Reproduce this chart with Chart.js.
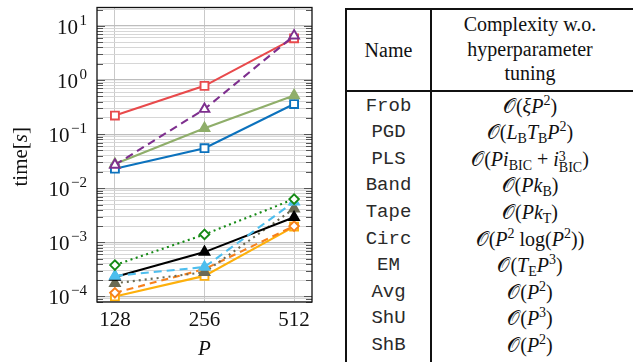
<!DOCTYPE html>
<html>
<head>
<meta charset="utf-8">
<script src="https://cdn.jsdelivr.net/npm/chart.js@4.4.1/dist/chart.umd.min.js"></script>
<style>
  body { margin: 0; width: 633px; height: 362px; overflow: hidden; position: relative; background: #fff; }
  #graf { position: absolute; left: 0; top: 0; width: 320px; height: 362px; }
  .ln { position: absolute; background: #111; }
  .cel { position: absolute; text-align: center; font-family: "Liberation Serif", "DejaVu Serif", serif; font-size: 20px; color: #111; white-space: nowrap; }
  .nome { font-family: "Liberation Mono", "DejaVu Sans Mono", monospace; font-size: 19px; color: #2a2a2a; }
  .cel i { font-style: italic; }
  .cel sup, .cel sub { font-size: 14px; line-height: 0; font-style: normal; }
  .cel sup { vertical-align: 8px; }
  .cel sub { vertical-align: -4px; }
  .pilha { display: inline-block; vertical-align: -6px; line-height: 11px; font-size: 14px; text-align: left; }
</style>
</head>
<body>
<div id="graf"><canvas id="grafico"></canvas></div>
<div id="tabela"></div>
<script>
// eixo x: tamanho do problema P
const valoresP = [128, 256, 512];
const nomesMetodos = ['Frob', 'PGD', 'PLS', 'Band', 'Tape', 'Circ', 'EM', 'Avg', 'ShU', 'ShB'];
const complexidades = [
  '𝒪(<i>ξP</i><sup>2</sup>)',
  '𝒪(<i>L</i><sub>B</sub><i>T</i><sub>B</sub><i>P</i><sup>2</sup>)',
  '𝒪(<i>Pi</i><sub>BIC</sub> + <i>i</i><span class="pilha">3<br>BIC</span>)',
  '𝒪(<i>Pk</i><sub>B</sub>)',
  '𝒪(<i>Pk</i><sub>T</sub>)',
  '𝒪(<i>P</i><sup>2</sup> log(<i>P</i><sup>2</sup>))',
  '𝒪(<i>T</i><sub>E</sub><i>P</i><sup>3</sup>)',
  '𝒪(<i>P</i><sup>2</sup>)',
  '𝒪(<i>P</i><sup>3</sup>)',
  '𝒪(<i>P</i><sup>2</sup>)'
];

// tempos em segundos
const tempoFrob = [0.22, 0.78, 5.9];
const tempoPGD = [0.023, 0.055, 0.36];
const tempoPLS = [0.028, 0.128, 0.52];
const tempoEM = [0.027, 0.29, 6.6];
const tempoBand = [3.8e-4, 1.4e-3, 6.3e-3];
const tempoTape = [2.3e-4, 6.6e-4, 2.9e-3];
const tempoCirc = [2.4e-4, 3.5e-4, 5.6e-3];
const tempoAvg = [1.75e-4, 2.8e-4, 4.2e-3];
const tempoShU = [1.17e-4, 3.2e-4, 2.0e-3];
const tempoShB = [1.0e-4, 2.4e-4, 1.95e-3];

const expoentesY = [1, 0, -1, -2, -3, -4];

function serie(label, valores, cor, estilo, vazio, tracejado) {
  let raio = 5.6;
  if (estilo === 'triangle') raio = 5.6;
  if (estilo === 'rectRot') raio = 4.8;
  return {
    label: label,
    data: valoresP.map((p, i) => ({ x: p, y: valores[i] })),
    borderColor: cor,
    backgroundColor: cor,
    borderWidth: 2.1,
    borderDash: tracejado || [],
    pointStyle: estilo,
    pointRadius: raio,
    pointBorderWidth: 1.9,
    pointBackgroundColor: vazio ? '#ffffff' : cor,
    pointBorderColor: cor,
    tension: 0
  };
}

// moldura, marcas e rótulos do eixo y
const pluginEixos = {
  id: 'eixos',
  afterDatasetsDraw(chart) {
    const ctx = chart.ctx;
    const a = chart.chartArea;
    const y = chart.scales.y;
    ctx.save();
    ctx.strokeStyle = '#555';
    ctx.lineWidth = 1;
    y.ticks.forEach(t => {
      const py = Math.round(y.getPixelForValue(t.value)) + 0.5;
      const len = t.major ? 8 : 6;
      ctx.beginPath();
      ctx.moveTo(a.left, py); ctx.lineTo(a.left + len, py);
      ctx.moveTo(a.right, py); ctx.lineTo(a.right - len, py);
      ctx.stroke();
    });
    ctx.strokeStyle = '#111';
    ctx.lineWidth = 1.3;
    ctx.strokeRect(a.left, a.top, a.right - a.left, a.bottom - a.top);

    ctx.fillStyle = '#111';
    ctx.textBaseline = 'middle';
    expoentesY.forEach(e => {
      const py = y.getPixelForValue(Math.pow(10, e));
      const exp = e < 0 ? '\u2212' + (-e) : String(e);
      ctx.font = '15px "Liberation Serif", serif';
      const we = ctx.measureText(exp).width;
      ctx.textAlign = 'right';
      ctx.fillText(exp, 87, py - 5);
      ctx.font = '21px "Liberation Serif", serif';
      ctx.fillText('10', 87 - we - 1.5, py + 2.5);
    });

    // título do eixo y: time[s]
    ctx.translate(21, (a.top + a.bottom) / 2 + 2);
    ctx.rotate(-Math.PI / 2);
    ctx.textAlign = 'left';
    const partes = [['time[', '21px "Liberation Serif", serif'], ['s', 'italic 21px "Liberation Serif", serif'], [']', '21px "Liberation Serif", serif']];
    let total = 0;
    partes.forEach(p => { ctx.font = p[1]; total += ctx.measureText(p[0]).width; });
    let x = -total / 2;
    partes.forEach(p => { ctx.font = p[1]; ctx.fillText(p[0], x, 0); x += ctx.measureText(p[0]).width; });
    ctx.restore();
  }
};

function ticksY() {
  const lista = [];
  for (let e = -5; e <= 1; e++) {
    for (let m = 1; m <= 9; m++) {
      const v = m * Math.pow(10, e);
      if (v >= 7.9e-5 && v <= 21.9) lista.push({ value: v, major: m === 1 });
    }
  }
  return lista;
}

const ctx = document.getElementById('grafico').getContext('2d');
new Chart(ctx, {
  type: 'line',
  data: {
    datasets: [
      serie(nomesMetodos[6], tempoEM, '#7e2f8e', 'triangle', true, [8, 5]),
      serie(nomesMetodos[0], tempoFrob, '#e84a4c', 'rect', true),
      serie(nomesMetodos[2], tempoPLS, '#8fae6a', 'triangle', false),
      serie(nomesMetodos[1], tempoPGD, '#0c72bd', 'rect', true),
      serie(nomesMetodos[3], tempoBand, '#158a15', 'rectRot', true, [2, 3.5]),
      serie(nomesMetodos[5], tempoCirc, '#4dbeee', 'triangle', false, [8, 5]),
      serie(nomesMetodos[4], tempoTape, '#000000', 'triangle', false),
      serie(nomesMetodos[7], tempoAvg, '#6b6b55', 'triangle', false, [2, 4]),
      serie(nomesMetodos[8], tempoShU, '#f7801c', 'rectRot', true, [7, 5]),
      serie(nomesMetodos[9], tempoShB, '#fdb00c', 'rect', true)
    ]
  },
  options: {
    responsive: true,
    maintainAspectRatio: false,
    animation: false,
    layout: { padding: { top: 6, right: 8, left: 0, bottom: 0 } },
    plugins: { legend: { display: false }, tooltip: { enabled: false } },
    scales: {
      x: {
        type: 'logarithmic',
        min: Math.pow(2, 6.8),
        max: Math.pow(2, 9.2),
        bounds: 'data',
        afterBuildTicks: axis => { axis.ticks = valoresP.map(v => ({ value: v })); },
        afterFit: axis => { axis.height = 60; },
        ticks: {
          autoSkip: false,
          maxRotation: 0,
          padding: 6,
          color: '#111',
          font: { family: '"Liberation Serif", serif', size: 21 },
          callback: v => String(v)
        },
        grid: { color: '#c9c9c9', lineWidth: 1, drawTicks: false },
        border: { display: false },
        title: {
          display: true,
          text: 'P',
          color: '#111',
          padding: { top: 0, bottom: 0 },
          font: { family: '"Liberation Serif", serif', size: 21, style: 'italic' }
        }
      },
      y: {
        type: 'logarithmic',
        min: 7.9e-5,
        max: 21.9,
        bounds: 'data',
        afterBuildTicks: axis => { axis.ticks = ticksY(); },
        afterFit: axis => { axis.width = 97; },
        ticks: { display: false, autoSkip: false },
        grid: {
          drawTicks: false,
          lineWidth: c => (c.tick && c.tick.major ? 1.2 : 1),
          color: c => (c.tick && c.tick.major ? '#bdbdbd' : '#d6d6d6')
        },
        border: { display: false }
      }
    }
  },
  plugins: [pluginEixos]
});

// tabela de complexidade
function montarTabela() {
  const t = document.getElementById('tabela');
  let html = '';
  html += '<div class="ln" style="left:345px;top:8px;width:300px;height:2px"></div>';
  html += '<div class="ln" style="left:345px;top:89.5px;width:300px;height:2px"></div>';
  html += '<div class="ln" style="left:345px;top:8px;width:2px;height:360px"></div>';
  html += '<div class="ln" style="left:430px;top:8px;width:2px;height:360px"></div>';
  html += '<div class="cel" style="left:347px;width:83px;top:37px;line-height:26px">Name</div>';
  html += '<div class="cel" style="left:432px;width:196px;top:12px;line-height:24.5px">Complexity w.o.<br>hyperparameter<br>tuning</div>';
  nomesMetodos.forEach((n, i) => {
    const topo = 92.5 + i * 26.6;
    html += '<div class="cel nome" style="left:347px;width:83px;top:' + topo + 'px;line-height:26.6px">' + n + '</div>';
    html += '<div class="cel" style="left:432px;width:196px;top:' + topo + 'px;line-height:26.6px">' + complexidades[i] + '</div>';
  });
  t.innerHTML = html;
}
montarTabela();
</script>
</body>
</html>
